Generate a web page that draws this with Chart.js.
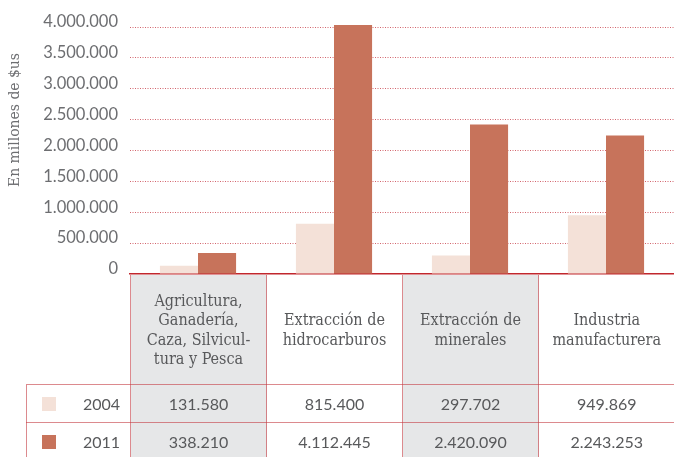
<!DOCTYPE html>
<html>
<head>
<meta charset="utf-8">
<script src="https://cdn.jsdelivr.net/npm/chart.js@4"></script>
<style>
    html, body { margin: 0; padding: 0; background: #fff; overflow: hidden; }
    #wrap { position: relative; width: 674px; height: 457px; }
    #chart_cnv { position: absolute; left: 0; top: 0; }
    #y_title {
        position: absolute; left: 14px; top: 120px; width: 200px; height: 20px;
        margin-left: -100px; margin-top: -10px; text-align: center; line-height: 20px;
        transform: rotate(-90deg);
        font-family: "DejaVu Serif Condensed", "DejaVu Serif", serif; font-size: 15.5px; color: #6d6e71;
    }
    #data_table {
        position: absolute; left: 26px; top: 275px; width: 648px;
        border-collapse: collapse; table-layout: fixed;
        color: #58595b;
    }
    #data_table th, #data_table td { border: 1px solid rgba(196, 60, 66, 0.6); padding: 0; text-align: center; vertical-align: middle; }
    #data_table th {
        height: 109px; font-weight: normal; border-top: none;
        font-family: "DejaVu Serif Condensed", "DejaVu Serif", serif; font-size: 16px; line-height: 19.5px;
    }
    #data_table th.blank { border-left: none; }
    #data_table td { height: 37px; font-family: Lato, sans-serif; font-size: 16px; }
    #data_table .last { border-right: none; }
    #data_table .shaded { background: #e6e7e8; }
    .year_cell { display: flex; align-items: center; justify-content: space-between; }
    .swatch { width: 14px; height: 14px; margin-left: 15px; }
    .year_txt { padding-right: 10px; }
</style>
</head>
<body>
<div id="wrap">
    <canvas id="chart_cnv" width="674" height="457"></canvas>
    <div id="y_title">En millones de $us</div>
    <table id="data_table">
        <colgroup><col style="width:104px"><col style="width:136px"><col style="width:136px"><col style="width:136px"><col style="width:136px"></colgroup>
        <thead><tr id="head_row"></tr></thead>
        <tbody id="table_body"></tbody>
    </table>
</div>
<script>
// categories, one array of lines for each column of the table
const categories = [
    ["Agricultura,", "Ganadería,", "Caza, Silvicul-", "tura y Pesca"],
    ["Extracción de", "hidrocarburos"],
    ["Extracción de", "minerales"],
    ["Industria", "manufacturera"]
];
const years = ["2004", "2011"];
const values_2004 = [131580, 815400, 297702, 949869];
const values_2011 = [338210, 4112445, 2420090, 2243253];
const y_max = 4000000;
const y_step = 500000;

const color_2004 = "#f4e1d8";
const color_2011 = "#c7735b";

/**
 * thousands with dots, like 2.420.090
 */
function fmt(n) {
    return String(Math.round(n)).replace(/\B(?=(\d{3})+(?!\d))/g, ".");
}

const chart_cnv = document.getElementById("chart_cnv").getContext("2d");

let chart = new Chart(chart_cnv, {
    "type": "bar",
    "data": {
        "labels": categories.map(function (c) { return c.join(" "); }),
        "datasets": [
            {"label": years[0], "data": values_2004, "backgroundColor": color_2004, "clip": 2},
            {"label": years[1], "data": values_2011, "backgroundColor": color_2011, "clip": 2}
        ]
    },
    "options": {
        "responsive": false,
        "animation": false,
        "layout": {"padding": {"top": 27, "right": 0, "bottom": 183, "left": 2}},
        "plugins": {"legend": {"display": false}, "tooltip": {"enabled": false}},
        "datasets": {"bar": {"categoryPercentage": 0.56, "barPercentage": 1.0}},
        "scales": {
            "x": {
                "grid": {"display": false},
                "ticks": {"display": false},
                "afterFit": function (scale) { scale.height = 0; },
                "border": {"display": true, "color": "#c1272d", "width": 1.5}
            },
            "y": {
                "min": 0,
                "max": y_max,
                "afterFit": function (scale) {
                    scale.width = 128;
                    scale.paddingTop = 0;
                    scale.paddingBottom = 0;
                },
                "ticks": {
                    "stepSize": y_step,
                    "padding": 12,
                    "labelOffset": -5,
                    "color": "#6d6e71",
                    "font": {"family": "Lato", "size": 16.5},
                    "callback": function (v) { return fmt(v); }
                },
                "grid": {
                    "drawTicks": false,
                    "lineWidth": 1,
                    "color": function (ctx) { return ctx.tick && ctx.tick.value === 0 ? "rgba(0,0,0,0)" : "rgba(196, 50, 60, 0.75)"; }
                },
                "border": {"display": false, "dash": [1, 1.5]}
            }
        }
    }
});

// table under the chart, built from the same arrays
const head_row = document.getElementById("head_row");
let head_html = '<th class="blank"></th>';
categories.forEach(function (lines, i) {
    let cls = (i % 2 === 0 ? "shaded" : "") + (i === categories.length - 1 ? " last" : "");
    head_html += '<th class="' + cls + '">' + lines.join("<br>") + '</th>';
});
head_row.innerHTML = head_html;

const table_body = document.getElementById("table_body");
const rows = [[years[0], color_2004, values_2004], [years[1], color_2011, values_2011]];
let body_html = "";
rows.forEach(function (r) {
    body_html += '<tr><td><div class="year_cell"><span class="swatch" style="background:' + r[1] + '"></span><span class="year_txt">' + r[0] + '</span></div></td>';
    r[2].forEach(function (v, i) {
        let cls = (i % 2 === 0 ? "shaded" : "") + (i === r[2].length - 1 ? " last" : "");
        body_html += '<td class="' + cls + '">' + fmt(v) + '</td>';
    });
    body_html += '</tr>';
});
table_body.innerHTML = body_html;
</script>
</body>
</html>
